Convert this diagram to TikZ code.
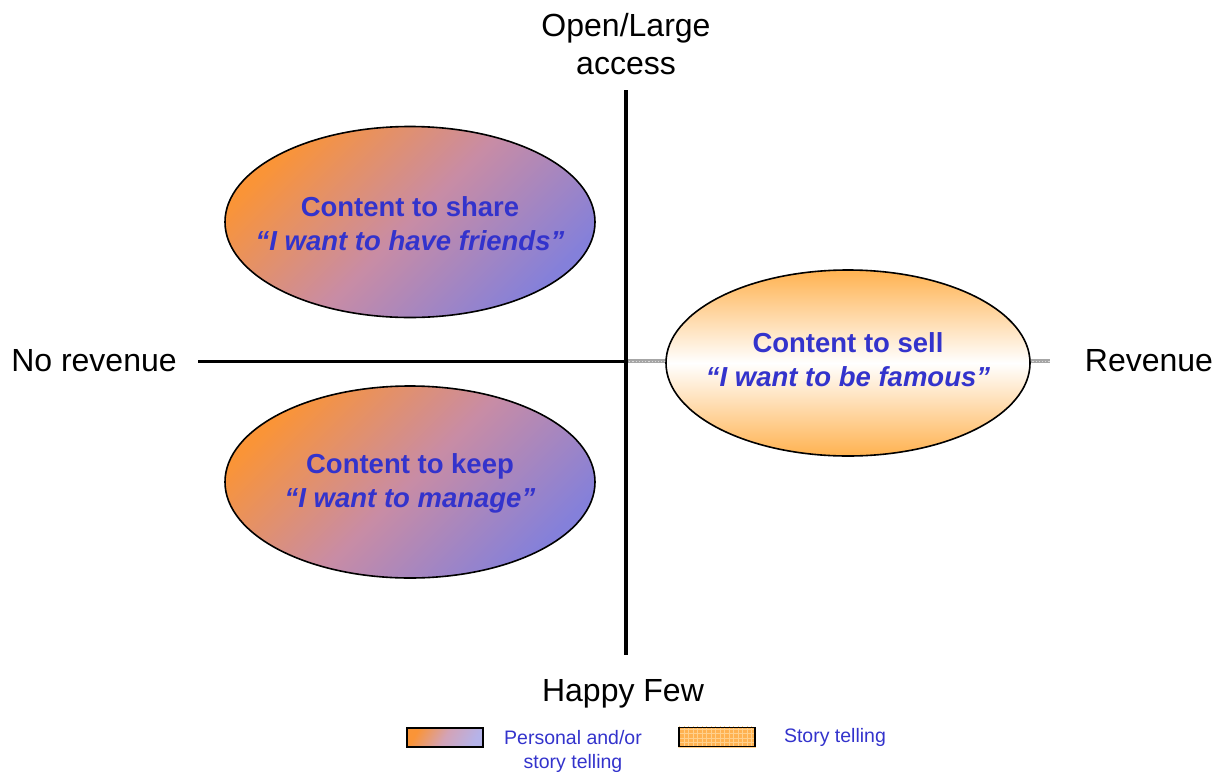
\documentclass[tikz,border=0pt]{standalone}
\usepackage{fontspec}
\setmainfont{Liberation Sans}
\usetikzlibrary{shapes.geometric}
\definecolor{txtblue}{RGB}{51,51,204}
\definecolor{orng}{RGB}{250,148,55}
\definecolor{lav}{RGB}{132,128,218}
\definecolor{midc}{RGB}{200,140,165}
\definecolor{lorng}{RGB}{255,178,80}
\definecolor{gridc}{RGB}{255,208,140}
\begin{document}
\begin{tikzpicture}[x=1pt,y=-1pt,
  axislbl/.style={font=\fontsize{32}{38}\selectfont, align=center, inner sep=0pt},
  blob/.style={ellipse, draw=black, line width=1.6pt, inner sep=0pt},
  blobtxt/.style={align=center, inner sep=0pt, text=txtblue, font=\fontsize{27.5}{34}\selectfont\bfseries},
  duo/.style={top color=orng, bottom color=lav, middle color=midc, shading angle=45},
  legtxt/.style={text=txtblue, font=\fontsize{19.5}{24}\selectfont, align=center, inner sep=0pt},
  legbox/.style={draw=black, line width=1.5pt, minimum width=76pt, minimum height=19pt, inner sep=0pt}]
\useasboundingbox (0,0) rectangle (1226,774);

% axes
\coordinate (vtop) at (626,90);
\coordinate (vbot) at (626,655);
\coordinate (hl) at (198,361);
\coordinate (o) at (626,361);
\coordinate (hr) at (1050,361);
\draw[line width=3.8pt, gray!70] (o) -- (hr);
\draw[line width=0.9pt, white!70!gray, dash pattern=on 1.2pt off 2pt] (o) -- (hr);
\draw[line width=3pt] (hl) -- (o);
\draw[line width=3.2pt] (vtop) -- (vbot);

% ellipses
\node[blob, duo, minimum width=370pt, minimum height=191pt] (share) at (410,222) {};
\node[blobtxt] (sharet) at ([yshift=-1.5pt]share.center) {Content to share\\[0pt]\itshape ``I want to have friends''};
\node[blob, duo, minimum width=370pt, minimum height=192pt] (keep) at (410,482) {};
\node[blobtxt] (keept) at ([yshift=-1.5pt]keep.center) {Content to keep\\[0pt]\itshape ``I want to manage''};
\node[blob, top color=lorng, bottom color=lorng, middle color=white,
  minimum width=364pt, minimum height=186pt] (sell) at (848,363) {};
\node[blobtxt] (sellt) at ([yshift=3pt]sell.center) {Content to sell\\[0pt]\itshape ``I want to be famous''};

% axis labels
\node[axislbl] (open) at (626,44) {Open/Large\\access};
\node[axislbl] (norev) at (94,361) {No revenue};
\node[axislbl] (rev) at (1149,361) {Revenue};
\node[axislbl] (few) at (623,694) {Happy Few};

% legend
\node[legbox, top color=orng, bottom color=lav!60, middle color=midc!80, shading angle=60] (leg1) at (445,737.5) {};
\node[legtxt] (leg1t) at (573,751) {Personal and/or\\story telling};
\node[legbox, fill=lorng] (leg2) at (717,737) {};
\begin{scope}
  \clip (leg2.south west) rectangle (leg2.north east);
  \draw[gridc, line width=0.5pt, step=4.5pt] (678,726) grid (756,748);
\end{scope}
\node[legbox] at (leg2) {};
\node[legtxt] (leg2t) at (835,737.5) {Story telling};
\end{tikzpicture}
\end{document}
